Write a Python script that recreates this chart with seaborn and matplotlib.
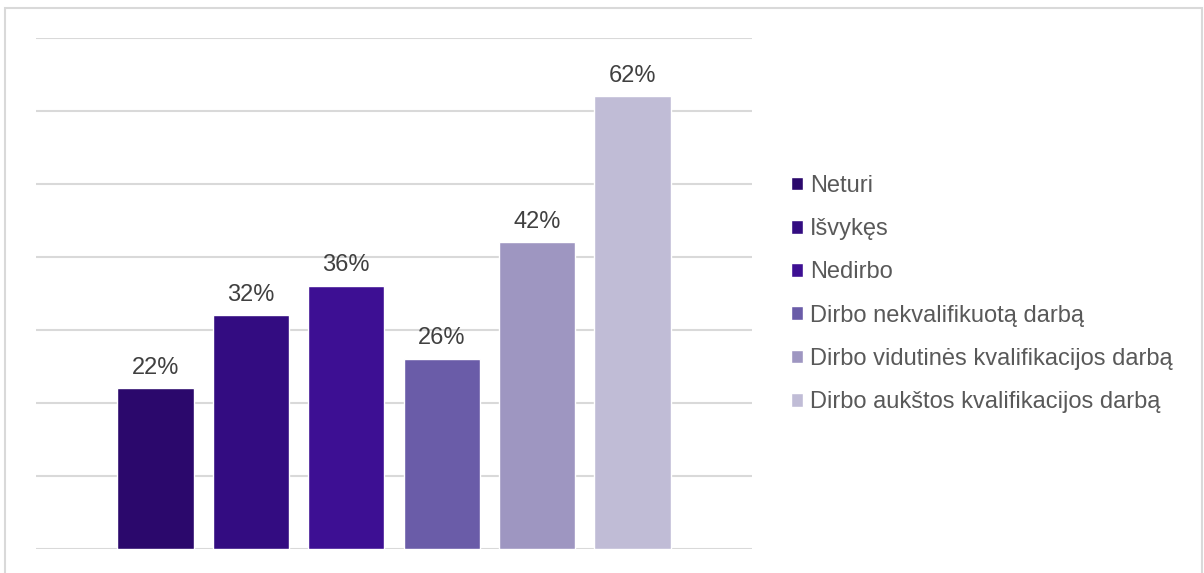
import numpy as np
import pandas as pd
import seaborn as sns
import matplotlib.pyplot as plt
from matplotlib.patches import Rectangle

# data
categories = ["Neturi", "Išvykęs", "Nedirbo", "Dirbo nekvalifikuotą darbą",
              "Dirbo vidutinės kvalifikacijos darbą", "Dirbo aukštos kvalifikacijos darbą"]
values = [0.22, 0.32, 0.36, 0.26, 0.42, 0.62]
colors = ["#2B086C", "#330C81", "#3D0F93", "#6A5CA8", "#9E96C1", "#C0BCD6"]

df = pd.DataFrame({"group": categories, "share": values})

sns.set_style("white")
plt.rcParams["font.family"] = ["Liberation Sans", "DejaVu Sans"]

fig = plt.figure(figsize=(12.04, 5.73), dpi=100)
ax = fig.add_axes([0.0299, 0.0419, 0.5947, 0.8918])

sns.barplot(data=df, x="group", y="share", hue="group", palette=colors,
            width=0.8, dodge=False, saturation=1, legend=True, ax=ax)

ax.set_xlim(-1.25, 6.25)
ax.set_ylim(0, 0.70)
ax.set_yticks(np.arange(0, 0.71, 0.1))
ax.yaxis.grid(True, color="#D9D9D9", linewidth=1.5)
ax.set_axisbelow(True)
ax.tick_params(left=False, bottom=False, labelleft=False, labelbottom=False)
ax.set_xlabel("")
ax.set_ylabel("")
for s in ax.spines.values():
    s.set_visible(False)

# value labels
for cont in ax.containers:
    ax.bar_label(cont, labels=[f"{v*100:.0f}%" for v in cont.datavalues],
                 padding=7, fontsize=17, color="#404040")

handles, labels = ax.get_legend_handles_labels()
ax.legend(handles, labels, loc="center left", bbox_to_anchor=(0.657, 0.487),
          bbox_transform=fig.transFigure, frameon=False, fontsize=17,
          handlelength=0.52, handleheight=0.52, handletextpad=0.28,
          labelspacing=0.9, labelcolor="#595959", borderaxespad=0,
          borderpad=0)

# outer chart frame
fig.patches.append(Rectangle((5 / 1204, -0.01), 1197 / 1204, 1 - 8 / 573 + 0.01,
                             transform=fig.transFigure, fill=False,
                             edgecolor="#D9D9D9", linewidth=1.5))

fig.savefig("out.png", dpi=100)
